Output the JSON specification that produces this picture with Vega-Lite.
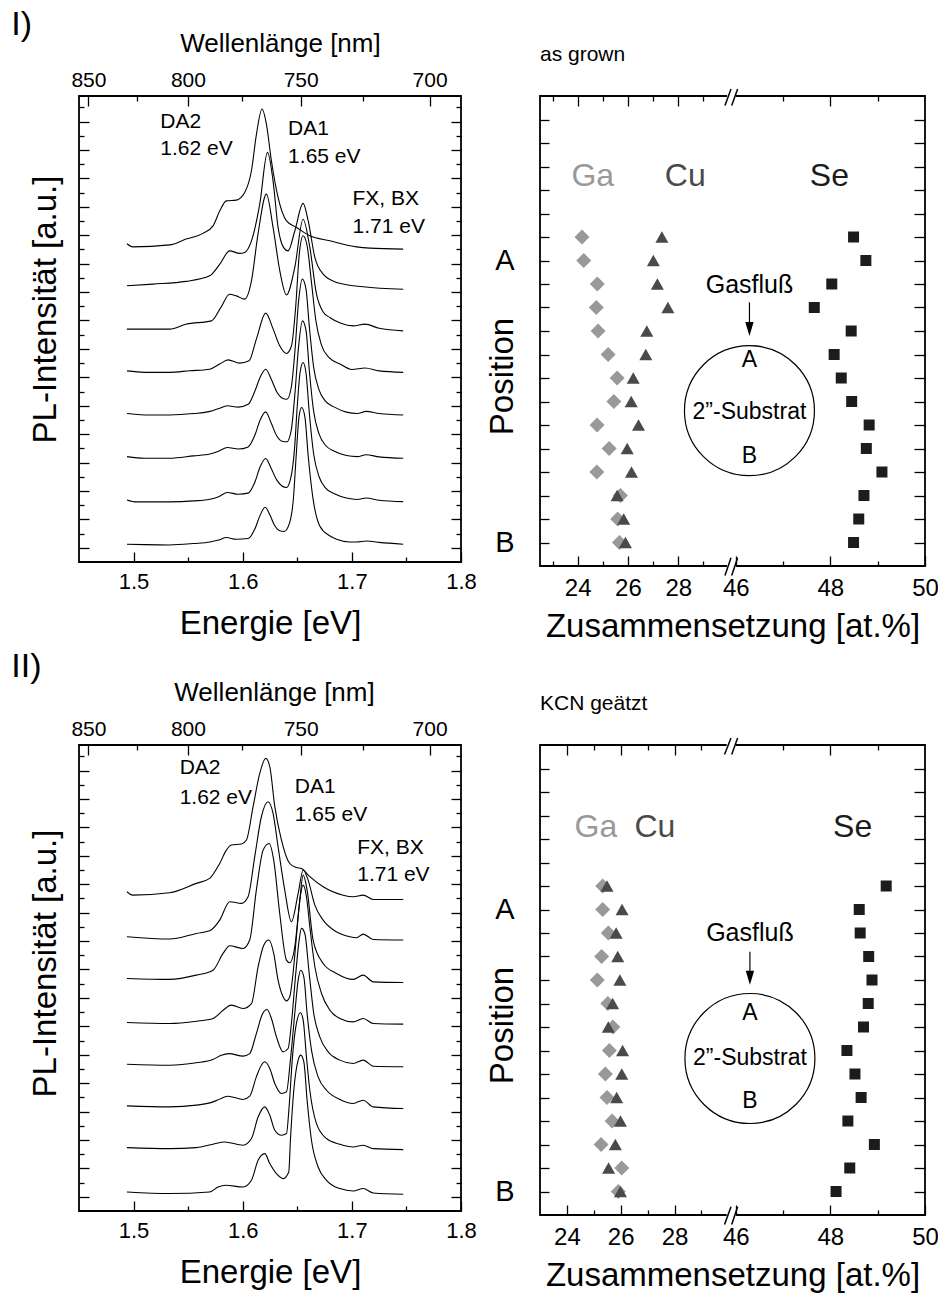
{
"$schema": "https://vega.github.io/schema/vega-lite/v6.json",
"background": "white",
"padding": {"left": 10, "top": 7, "right": 0, "bottom": 0},
"config": {
 "font": "Liberation Sans",
 "view": {"stroke": "#000000", "strokeWidth": 1.8},
 "axis": {"domain": false, "grid": false, "tickColor": "#000000", "tickWidth": 1.3, "labelColor": "#000000", "titleColor": "#000000", "titleFontWeight": "normal", "titleFontSize": 33, "labelFontSize": 22, "labelFont": "Liberation Sans", "titleFont": "Liberation Sans", "labelFlush": false, "labelOverlap": false},
 "title": {"font": "Liberation Sans", "fontWeight": "normal", "color": "#000000"},
 "text": {"font": "Liberation Sans", "color": "#000000"}
},
"datasets": {
 "specI": [
  {"c":1,"e":1.494,"i":1.25},{"c":1,"e":1.51,"i":1.22},{"c":1,"e":1.533,"i":1.2},{"c":1,"e":1.555,"i":1.3},{"c":1,"e":1.57,"i":1.41},{"c":1,"e":1.578,"i":1.55},{"c":1,"e":1.585,"i":1.72},{"c":1,"e":1.594,"i":1.6},{"c":1,"e":1.605,"i":1.65},{"c":1,"e":1.611,"i":2.3},{"c":1,"e":1.616,"i":3.3},{"c":1,"e":1.6205,"i":3.85},{"c":1,"e":1.625,"i":3.3},{"c":1,"e":1.629,"i":2.6},{"c":1,"e":1.634,"i":2.2},{"c":1,"e":1.638,"i":2.15},{"c":1,"e":1.643,"i":2.77},{"c":1,"e":1.6465,"i":4.5},{"c":1,"e":1.649,"i":7.5},{"c":1,"e":1.6517,"i":10.28},{"c":1,"e":1.654,"i":10.87},{"c":1,"e":1.657,"i":10.2},{"c":1,"e":1.66,"i":7.46},{"c":1,"e":1.6645,"i":4.42},{"c":1,"e":1.6706,"i":2.54},{"c":1,"e":1.68,"i":1.83},{"c":1,"e":1.686,"i":1.6},{"c":1,"e":1.698,"i":1.41},{"c":1,"e":1.7043,"i":1.41},{"c":1,"e":1.7135,"i":1.48},{"c":1,"e":1.725,"i":1.38},{"c":1,"e":1.747,"i":1.25},
  {"c":2,"e":1.494,"i":4.37},{"c":2,"e":1.5025,"i":4.23},{"c":2,"e":1.533,"i":4.23},{"c":2,"e":1.555,"i":4.3},{"c":2,"e":1.57,"i":4.42},{"c":2,"e":1.578,"i":4.6},{"c":2,"e":1.586,"i":4.89},{"c":2,"e":1.596,"i":4.77},{"c":2,"e":1.605,"i":4.85},{"c":2,"e":1.611,"i":5.6},{"c":2,"e":1.616,"i":6.7},{"c":2,"e":1.621,"i":7.28},{"c":2,"e":1.626,"i":6.6},{"c":2,"e":1.631,"i":5.8},{"c":2,"e":1.636,"i":5.35},{"c":2,"e":1.64,"i":5.24},{"c":2,"e":1.644,"i":5.9},{"c":2,"e":1.6475,"i":8.0},{"c":2,"e":1.65,"i":11.0},{"c":2,"e":1.6525,"i":13.3},{"c":2,"e":1.6553,"i":14.04},{"c":2,"e":1.658,"i":13.3},{"c":2,"e":1.661,"i":10.5},{"c":2,"e":1.665,"i":7.6},{"c":2,"e":1.67,"i":6.0},{"c":2,"e":1.676,"i":5.2},{"c":2,"e":1.684,"i":4.8},{"c":2,"e":1.695,"i":4.5},{"c":2,"e":1.705,"i":4.4},{"c":2,"e":1.713,"i":4.5},{"c":2,"e":1.725,"i":4.35},{"c":2,"e":1.747,"i":4.25},
  {"c":3,"e":1.494,"i":7.42},{"c":3,"e":1.51,"i":7.3},{"c":3,"e":1.533,"i":7.3},{"c":3,"e":1.555,"i":7.47},{"c":3,"e":1.57,"i":7.6},{"c":3,"e":1.578,"i":7.8},{"c":3,"e":1.586,"i":8.06},{"c":3,"e":1.596,"i":7.95},{"c":3,"e":1.605,"i":8.1},{"c":3,"e":1.611,"i":8.9},{"c":3,"e":1.616,"i":10.0},{"c":3,"e":1.621,"i":10.57},{"c":3,"e":1.626,"i":9.8},{"c":3,"e":1.631,"i":8.9},{"c":3,"e":1.636,"i":8.5},{"c":3,"e":1.6405,"i":8.46},{"c":3,"e":1.6445,"i":9.3},{"c":3,"e":1.648,"i":12.0},{"c":3,"e":1.651,"i":15.0},{"c":3,"e":1.6547,"i":16.97},{"c":3,"e":1.658,"i":16.3},{"c":3,"e":1.661,"i":13.5},{"c":3,"e":1.665,"i":10.6},{"c":3,"e":1.67,"i":9.0},{"c":3,"e":1.676,"i":8.2},{"c":3,"e":1.684,"i":7.8},{"c":3,"e":1.695,"i":7.5},{"c":3,"e":1.705,"i":7.42},{"c":3,"e":1.713,"i":7.55},{"c":3,"e":1.725,"i":7.4},{"c":3,"e":1.747,"i":7.3},
  {"c":4,"e":1.494,"i":10.45},{"c":4,"e":1.51,"i":10.35},{"c":4,"e":1.533,"i":10.35},{"c":4,"e":1.555,"i":10.45},{"c":4,"e":1.57,"i":10.6},{"c":4,"e":1.578,"i":10.8},{"c":4,"e":1.586,"i":11.0},{"c":4,"e":1.596,"i":10.9},{"c":4,"e":1.605,"i":11.1},{"c":4,"e":1.611,"i":12.0},{"c":4,"e":1.616,"i":13.0},{"c":4,"e":1.621,"i":13.57},{"c":4,"e":1.626,"i":12.9},{"c":4,"e":1.631,"i":12.0},{"c":4,"e":1.636,"i":11.55},{"c":4,"e":1.6405,"i":11.46},{"c":4,"e":1.6445,"i":12.3},{"c":4,"e":1.648,"i":15.0},{"c":4,"e":1.651,"i":18.2},{"c":4,"e":1.6547,"i":19.91},{"c":4,"e":1.658,"i":19.2},{"c":4,"e":1.661,"i":16.6},{"c":4,"e":1.665,"i":13.7},{"c":4,"e":1.67,"i":12.1},{"c":4,"e":1.676,"i":11.3},{"c":4,"e":1.684,"i":10.9},{"c":4,"e":1.695,"i":10.55},{"c":4,"e":1.705,"i":10.45},{"c":4,"e":1.713,"i":10.6},{"c":4,"e":1.725,"i":10.45},{"c":4,"e":1.747,"i":10.35},
  {"c":5,"e":1.494,"i":13.45},{"c":5,"e":1.51,"i":13.35},{"c":5,"e":1.533,"i":13.35},{"c":5,"e":1.5514,"i":13.46},{"c":5,"e":1.5697,"i":13.57},{"c":5,"e":1.5789,"i":13.93},{"c":5,"e":1.5866,"i":14.23},{"c":5,"e":1.5972,"i":14.0},{"c":5,"e":1.6058,"i":14.16},{"c":5,"e":1.6125,"i":15.69},{"c":5,"e":1.6211,"i":17.52},{"c":5,"e":1.6279,"i":16.39},{"c":5,"e":1.6339,"i":15.22},{"c":5,"e":1.6401,"i":14.68},{"c":5,"e":1.6447,"i":15.22},{"c":5,"e":1.6486,"i":18.03},{"c":5,"e":1.6517,"i":21.56},{"c":5,"e":1.6553,"i":22.96},{"c":5,"e":1.659,"i":22.26},{"c":5,"e":1.663,"i":19.68},{"c":5,"e":1.667,"i":17.0},{"c":5,"e":1.672,"i":15.3},{"c":5,"e":1.679,"i":14.4},{"c":5,"e":1.69,"i":13.9},{"c":5,"e":1.7,"i":13.55},{"c":5,"e":1.712,"i":13.65},{"c":5,"e":1.725,"i":13.45},{"c":5,"e":1.747,"i":13.35},
  {"c":6,"e":1.4939,"i":16.39},{"c":6,"e":1.533,"i":16.39},{"c":6,"e":1.548,"i":16.74},{"c":6,"e":1.5713,"i":16.97},{"c":6,"e":1.58,"i":17.92},{"c":6,"e":1.588,"i":18.85},{"c":6,"e":1.5942,"i":18.73},{"c":6,"e":1.6018,"i":18.5},{"c":6,"e":1.608,"i":19.79},{"c":6,"e":1.614,"i":23.08},{"c":6,"e":1.6217,"i":25.89},{"c":6,"e":1.6278,"i":23.55},{"c":6,"e":1.634,"i":20.49},{"c":6,"e":1.6401,"i":18.8},{"c":6,"e":1.6477,"i":20.73},{"c":6,"e":1.6553,"i":24.13},{"c":6,"e":1.6615,"i":22.14},{"c":6,"e":1.6676,"i":18.85},{"c":6,"e":1.6737,"i":17.6},{"c":6,"e":1.6798,"i":17.21},{"c":6,"e":1.69,"i":16.8},{"c":6,"e":1.7012,"i":16.62},{"c":6,"e":1.712,"i":16.74},{"c":6,"e":1.725,"i":16.45},{"c":6,"e":1.747,"i":16.27},
  {"c":7,"e":1.4939,"i":19.44},{"c":7,"e":1.5177,"i":19.56},{"c":7,"e":1.548,"i":19.75},{"c":7,"e":1.5697,"i":20.14},{"c":7,"e":1.579,"i":20.96},{"c":7,"e":1.588,"i":21.9},{"c":7,"e":1.5972,"i":21.72},{"c":7,"e":1.6018,"i":21.79},{"c":7,"e":1.608,"i":22.6},{"c":7,"e":1.6156,"i":25.19},{"c":7,"e":1.6227,"i":28.83},{"c":7,"e":1.6278,"i":26.83},{"c":7,"e":1.6324,"i":23.55},{"c":7,"e":1.637,"i":22.2},{"c":7,"e":1.6416,"i":21.9},{"c":7,"e":1.6477,"i":23.3},{"c":7,"e":1.6553,"i":25.24},{"c":7,"e":1.66,"i":24.01},{"c":7,"e":1.6661,"i":21.44},{"c":7,"e":1.6737,"i":20.26},{"c":7,"e":1.686,"i":19.68},{"c":7,"e":1.7104,"i":19.37},{"c":7,"e":1.747,"i":19.2},
  {"c":8,"e":1.4939,"i":22.4},{"c":8,"e":1.4994,"i":22.18},{"c":8,"e":1.533,"i":22.32},{"c":8,"e":1.548,"i":22.73},{"c":8,"e":1.5636,"i":23.13},{"c":8,"e":1.5728,"i":23.66},{"c":8,"e":1.579,"i":24.72},{"c":8,"e":1.585,"i":25.42},{"c":8,"e":1.594,"i":25.47},{"c":8,"e":1.6018,"i":26.01},{"c":8,"e":1.608,"i":27.54},{"c":8,"e":1.6126,"i":30.12},{"c":8,"e":1.6177,"i":31.88},{"c":8,"e":1.6217,"i":30.82},{"c":8,"e":1.6263,"i":28.24},{"c":8,"e":1.6324,"i":25.66},{"c":8,"e":1.6401,"i":24.01},{"c":8,"e":1.6493,"i":23.55},{"c":8,"e":1.6615,"i":22.96},{"c":8,"e":1.6798,"i":22.61},{"c":8,"e":1.7043,"i":22.18},{"c":8,"e":1.7165,"i":22.09},{"c":8,"e":1.747,"i":22.02}
 ],
 "specII": [
  {"c":1,"e":1.4939,"i":1.34},{"c":1,"e":1.533,"i":1.23},{"c":1,"e":1.5697,"i":1.34},{"c":1,"e":1.5774,"i":1.69},{"c":1,"e":1.5844,"i":1.81},{"c":1,"e":1.6003,"i":1.69},{"c":1,"e":1.608,"i":2.16},{"c":1,"e":1.6141,"i":3.57},{"c":1,"e":1.6202,"i":4.04},{"c":1,"e":1.6248,"i":3.34},{"c":1,"e":1.6309,"i":2.63},{"c":1,"e":1.637,"i":2.28},{"c":1,"e":1.6422,"i":2.75},{"c":1,"e":1.6437,"i":4.98},{"c":1,"e":1.6468,"i":8.5},{"c":1,"e":1.6508,"i":10.62},{"c":1,"e":1.6532,"i":10.97},{"c":1,"e":1.656,"i":10.5},{"c":1,"e":1.659,"i":7.8},{"c":1,"e":1.663,"i":4.98},{"c":1,"e":1.6691,"i":3.1},{"c":1,"e":1.6768,"i":2.16},{"c":1,"e":1.689,"i":1.58},{"c":1,"e":1.7012,"i":1.41},{"c":1,"e":1.7104,"i":1.58},{"c":1,"e":1.7196,"i":1.27},{"c":1,"e":1.7471,"i":1.18},
  {"c":2,"e":1.4939,"i":4.46},{"c":2,"e":1.533,"i":4.39},{"c":2,"e":1.5575,"i":4.46},{"c":2,"e":1.5728,"i":4.7},{"c":2,"e":1.5835,"i":4.86},{"c":2,"e":1.6003,"i":4.63},{"c":2,"e":1.608,"i":5.1},{"c":2,"e":1.6141,"i":6.62},{"c":2,"e":1.6202,"i":7.33},{"c":2,"e":1.6248,"i":6.74},{"c":2,"e":1.6294,"i":5.68},{"c":2,"e":1.6355,"i":5.33},{"c":2,"e":1.6401,"i":5.45},{"c":2,"e":1.6425,"i":7.33},{"c":2,"e":1.6456,"i":10.85},{"c":2,"e":1.6492,"i":13.2},{"c":2,"e":1.6529,"i":13.95},{"c":2,"e":1.6554,"i":13.43},{"c":2,"e":1.6584,"i":10.85},{"c":2,"e":1.6615,"i":8.5},{"c":2,"e":1.6676,"i":6.15},{"c":2,"e":1.6768,"i":5.1},{"c":2,"e":1.689,"i":4.7},{"c":2,"e":1.7012,"i":4.51},{"c":2,"e":1.7104,"i":4.63},{"c":2,"e":1.7196,"i":4.39},{"c":2,"e":1.7471,"i":4.32},
  {"c":3,"e":1.4939,"i":7.4},{"c":3,"e":1.533,"i":7.33},{"c":3,"e":1.5575,"i":7.45},{"c":3,"e":1.5728,"i":7.68},{"c":3,"e":1.5804,"i":7.92},{"c":3,"e":1.5865,"i":8.08},{"c":3,"e":1.6003,"i":7.85},{"c":3,"e":1.6064,"i":8.08},{"c":3,"e":1.6125,"i":9.44},{"c":3,"e":1.6171,"i":10.26},{"c":3,"e":1.6202,"i":10.5},{"c":3,"e":1.6248,"i":10.03},{"c":3,"e":1.6294,"i":8.97},{"c":3,"e":1.6355,"i":8.27},{"c":3,"e":1.6401,"i":8.39},{"c":3,"e":1.6437,"i":10.62},{"c":3,"e":1.6477,"i":13.9},{"c":3,"e":1.6508,"i":16.25},{"c":3,"e":1.6532,"i":16.95},{"c":3,"e":1.656,"i":16.48},{"c":3,"e":1.659,"i":13.9},{"c":3,"e":1.663,"i":11.32},{"c":3,"e":1.6691,"i":9.44},{"c":3,"e":1.6768,"i":8.5},{"c":3,"e":1.689,"i":7.85},{"c":3,"e":1.7012,"i":7.57},{"c":3,"e":1.7104,"i":7.8},{"c":3,"e":1.7196,"i":7.33},{"c":3,"e":1.7471,"i":7.21},
  {"c":4,"e":1.4939,"i":10.33},{"c":4,"e":1.533,"i":10.26},{"c":4,"e":1.5575,"i":10.43},{"c":4,"e":1.5728,"i":10.66},{"c":4,"e":1.5804,"i":10.97},{"c":4,"e":1.5875,"i":11.08},{"c":4,"e":1.6003,"i":10.9},{"c":4,"e":1.6064,"i":11.08},{"c":4,"e":1.6125,"i":12.49},{"c":4,"e":1.618,"i":13.85},{"c":4,"e":1.6223,"i":14.18},{"c":4,"e":1.6263,"i":13.55},{"c":4,"e":1.6309,"i":12.26},{"c":4,"e":1.637,"i":11.2},{"c":4,"e":1.6416,"i":11.44},{"c":4,"e":1.6446,"i":13.2},{"c":4,"e":1.6486,"i":16.72},{"c":4,"e":1.6517,"i":19.07},{"c":4,"e":1.6538,"i":19.89},{"c":4,"e":1.6569,"i":19.53},{"c":4,"e":1.6609,"i":16.72},{"c":4,"e":1.6651,"i":13.9},{"c":4,"e":1.6706,"i":12.26},{"c":4,"e":1.6783,"i":11.2},{"c":4,"e":1.689,"i":10.62},{"c":4,"e":1.7012,"i":10.38},{"c":4,"e":1.7104,"i":10.62},{"c":4,"e":1.7196,"i":10.19},{"c":4,"e":1.7471,"i":10.15},
  {"c":5,"e":1.4939,"i":13.27},{"c":5,"e":1.533,"i":13.2},{"c":5,"e":1.5575,"i":13.36},{"c":5,"e":1.5728,"i":13.55},{"c":5,"e":1.582,"i":14.13},{"c":5,"e":1.5896,"i":14.49},{"c":5,"e":1.6003,"i":14.25},{"c":5,"e":1.608,"i":14.6},{"c":5,"e":1.6141,"i":17.19},{"c":5,"e":1.6193,"i":18.71},{"c":5,"e":1.6239,"i":19.07},{"c":5,"e":1.6284,"i":18.13},{"c":5,"e":1.6324,"i":16.25},{"c":5,"e":1.637,"i":15.08},{"c":5,"e":1.6401,"i":14.79},{"c":5,"e":1.6431,"i":15.08},{"c":5,"e":1.6461,"i":16.72},{"c":5,"e":1.6492,"i":19.3},{"c":5,"e":1.6523,"i":21.88},{"c":5,"e":1.6554,"i":22.94},{"c":5,"e":1.6584,"i":22.12},{"c":5,"e":1.6615,"i":20.0},{"c":5,"e":1.6661,"i":17.19},{"c":5,"e":1.6722,"i":15.31},{"c":5,"e":1.6798,"i":14.14},{"c":5,"e":1.689,"i":13.55},{"c":5,"e":1.7012,"i":13.31},{"c":5,"e":1.7104,"i":13.55},{"c":5,"e":1.7196,"i":13.2},{"c":5,"e":1.7471,"i":13.15},
  {"c":6,"e":1.4939,"i":16.37},{"c":6,"e":1.533,"i":16.3},{"c":6,"e":1.5575,"i":16.6},{"c":6,"e":1.5728,"i":16.95},{"c":6,"e":1.582,"i":18.13},{"c":6,"e":1.5881,"i":18.67},{"c":6,"e":1.6003,"i":18.48},{"c":6,"e":1.6064,"i":19.07},{"c":6,"e":1.6125,"i":22.59},{"c":6,"e":1.6187,"i":25.4},{"c":6,"e":1.6242,"i":25.87},{"c":6,"e":1.6284,"i":24.7},{"c":6,"e":1.6339,"i":20.94},{"c":6,"e":1.6401,"i":17.66},{"c":6,"e":1.6431,"i":17.47},{"c":6,"e":1.6477,"i":18.6},{"c":6,"e":1.6517,"i":21.41},{"c":6,"e":1.6554,"i":23.64},{"c":6,"e":1.659,"i":22.59},{"c":6,"e":1.6645,"i":19.07},{"c":6,"e":1.6737,"i":17.42},{"c":6,"e":1.6859,"i":16.72},{"c":6,"e":1.7012,"i":16.3},{"c":6,"e":1.7104,"i":16.6},{"c":6,"e":1.7196,"i":16.13},{"c":6,"e":1.7471,"i":16.08},
  {"c":7,"e":1.4939,"i":19.3},{"c":7,"e":1.533,"i":19.14},{"c":7,"e":1.5575,"i":19.53},{"c":7,"e":1.5697,"i":19.72},{"c":7,"e":1.5789,"i":20.47},{"c":7,"e":1.5881,"i":21.77},{"c":7,"e":1.5988,"i":21.65},{"c":7,"e":1.6049,"i":22.12},{"c":7,"e":1.611,"i":24.93},{"c":7,"e":1.6171,"i":27.75},{"c":7,"e":1.6232,"i":28.81},{"c":7,"e":1.6278,"i":27.99},{"c":7,"e":1.6324,"i":25.64},{"c":7,"e":1.6385,"i":22.59},{"c":7,"e":1.6446,"i":20.36},{"c":7,"e":1.6508,"i":22.35},{"c":7,"e":1.6554,"i":24.0},{"c":7,"e":1.6599,"i":23.29},{"c":7,"e":1.6661,"i":21.53},{"c":7,"e":1.6737,"i":20.47},{"c":7,"e":1.6859,"i":19.65},{"c":7,"e":1.6982,"i":19.3},{"c":7,"e":1.7043,"i":19.23},{"c":7,"e":1.7104,"i":19.49},{"c":7,"e":1.7196,"i":19.11},{"c":7,"e":1.7471,"i":19.07},
  {"c":8,"e":1.4939,"i":22.47},{"c":8,"e":1.4994,"i":22.23},{"c":8,"e":1.533,"i":22.4},{"c":8,"e":1.5575,"i":23.06},{"c":8,"e":1.5697,"i":23.41},{"c":8,"e":1.5789,"i":24.46},{"c":8,"e":1.585,"i":25.4},{"c":8,"e":1.5896,"i":25.76},{"c":8,"e":1.5988,"i":25.83},{"c":8,"e":1.6034,"i":26.11},{"c":8,"e":1.6095,"i":28.46},{"c":8,"e":1.6156,"i":30.8},{"c":8,"e":1.6211,"i":31.86},{"c":8,"e":1.6248,"i":31.27},{"c":8,"e":1.6294,"i":28.46},{"c":8,"e":1.6355,"i":26.11},{"c":8,"e":1.6431,"i":24.46},{"c":8,"e":1.6492,"i":24.18},{"c":8,"e":1.6538,"i":24.11},{"c":8,"e":1.6615,"i":23.53},{"c":8,"e":1.6737,"i":22.82},{"c":8,"e":1.692,"i":22.23},{"c":8,"e":1.7012,"i":22.12},{"c":8,"e":1.7104,"i":22.23},{"c":8,"e":1.7196,"i":21.93},{"c":8,"e":1.7471,"i":21.93}
 ],
 "annI": [
  {"t":"DA2","e":1.5245,"i":31.0},{"t":"1.62 eV","e":1.5245,"i":29.06},{"t":"DA1","e":1.6416,"i":30.47},{"t":"1.65 eV","e":1.6416,"i":28.48},{"t":"FX, BX","e":1.7006,"i":25.54},{"t":"1.71 eV","e":1.7006,"i":23.55}
 ],
 "annII": [
  {"t":"DA2","e":1.5422,"i":31.15},{"t":"1.62 eV","e":1.5422,"i":29.04},{"t":"DA1","e":1.6477,"i":29.86},{"t":"1.65 eV","e":1.6477,"i":27.87},{"t":"FX, BX","e":1.7049,"i":25.52},{"t":"1.71 eV","e":1.7049,"i":23.64}
 ],
 "compI": [
  {"el":"Ga","k":14,"v":24.17},{"el":"Ga","k":13,"v":24.24},{"el":"Ga","k":12,"v":24.78},{"el":"Ga","k":11,"v":24.74},{"el":"Ga","k":10,"v":24.81},{"el":"Ga","k":9,"v":25.21},{"el":"Ga","k":8,"v":25.57},{"el":"Ga","k":7,"v":25.44},{"el":"Ga","k":6,"v":24.77},{"el":"Ga","k":5,"v":25.25},{"el":"Ga","k":4,"v":24.76},{"el":"Ga","k":3,"v":25.7},{"el":"Ga","k":2,"v":25.59},{"el":"Ga","k":1,"v":25.66},
  {"el":"Cu","k":14,"v":27.35},{"el":"Cu","k":13,"v":27.01},{"el":"Cu","k":12,"v":27.17},{"el":"Cu","k":11,"v":27.59},{"el":"Cu","k":10,"v":26.75},{"el":"Cu","k":9,"v":26.71},{"el":"Cu","k":8,"v":26.21},{"el":"Cu","k":7,"v":26.13},{"el":"Cu","k":6,"v":26.42},{"el":"Cu","k":5,"v":25.97},{"el":"Cu","k":4,"v":26.14},{"el":"Cu","k":3,"v":25.57},{"el":"Cu","k":2,"v":25.83},{"el":"Cu","k":1,"v":25.9},
  {"el":"Se","k":14,"v":48.49},{"el":"Se","k":13,"v":48.75},{"el":"Se","k":12,"v":48.03},{"el":"Se","k":11,"v":47.66},{"el":"Se","k":10,"v":48.44},{"el":"Se","k":9,"v":48.08},{"el":"Se","k":8,"v":48.23},{"el":"Se","k":7,"v":48.45},{"el":"Se","k":6,"v":48.82},{"el":"Se","k":5,"v":48.76},{"el":"Se","k":4,"v":49.09},{"el":"Se","k":3,"v":48.71},{"el":"Se","k":2,"v":48.6},{"el":"Se","k":1,"v":48.49}
 ],
 "compII": [
  {"el":"Ga","k":14,"v":25.33},{"el":"Ga","k":13,"v":25.33},{"el":"Ga","k":12,"v":25.54},{"el":"Ga","k":11,"v":25.29},{"el":"Ga","k":10,"v":25.13},{"el":"Ga","k":9,"v":25.52},{"el":"Ga","k":8,"v":25.71},{"el":"Ga","k":7,"v":25.58},{"el":"Ga","k":6,"v":25.43},{"el":"Ga","k":5,"v":25.49},{"el":"Ga","k":4,"v":25.68},{"el":"Ga","k":3,"v":25.27},{"el":"Ga","k":2,"v":26.04},{"el":"Ga","k":1,"v":25.91},
  {"el":"Cu","k":14,"v":25.49},{"el":"Cu","k":13,"v":26.05},{"el":"Cu","k":12,"v":25.83},{"el":"Cu","k":11,"v":25.89},{"el":"Cu","k":10,"v":25.97},{"el":"Cu","k":9,"v":25.7},{"el":"Cu","k":8,"v":25.54},{"el":"Cu","k":7,"v":26.07},{"el":"Cu","k":6,"v":26.04},{"el":"Cu","k":5,"v":25.85},{"el":"Cu","k":4,"v":25.99},{"el":"Cu","k":3,"v":25.8},{"el":"Cu","k":2,"v":25.55},{"el":"Cu","k":1,"v":25.99},
  {"el":"Se","k":14,"v":49.18},{"el":"Se","k":13,"v":48.61},{"el":"Se","k":12,"v":48.63},{"el":"Se","k":11,"v":48.81},{"el":"Se","k":10,"v":48.88},{"el":"Se","k":9,"v":48.8},{"el":"Se","k":8,"v":48.7},{"el":"Se","k":7,"v":48.35},{"el":"Se","k":6,"v":48.52},{"el":"Se","k":5,"v":48.65},{"el":"Se","k":4,"v":48.37},{"el":"Se","k":3,"v":48.93},{"el":"Se","k":2,"v":48.41},{"el":"Se","k":1,"v":48.12}
 ],
 "labI": [{"el":"Ga","v":24.6,"k":16.6},{"el":"Cu","v":28.28,"k":16.6},{"el":"Se","v":47.98,"k":16.6}],
 "labII": [{"el":"Ga","v":25.08,"k":16.5},{"el":"Cu","v":27.27,"k":16.5},{"el":"Se","v":48.47,"k":16.5}],
 "insetI": [{"t":"Gasfluß","v":46.29,"k":11.96},{"t":"A","v":46.29,"k":8.75},{"t":"2”-Substrat","v":46.29,"k":6.55},{"t":"B","v":46.29,"k":4.69}],
 "insetII": [{"t":"Gasfluß","v":46.3,"k":12.0},{"t":"A","v":46.3,"k":8.6},{"t":"2”-Substrat","v":46.3,"k":6.68},{"t":"B","v":46.3,"k":4.83}],
 "circI": [{"v":46.29,"k":6.61}],
 "circII": [{"v":46.3,"k":6.66}],
 "arrowI": [{"v":46.29,"k1":11.22,"k2":10.3}],
 "arrowII": [{"v":46.3,"k1":11.2,"k2":10.3}],
 "headI": [{"v":46.29,"k":10.09}],
 "headII": [{"v":46.3,"k":10.1}],
 "gap": [{"x1":29.94,"x2":46.0,"y1":20,"y2":20},{"x1":29.94,"x2":46.0,"y1":0,"y2":0}],
 "slash": [{"x1":29.86,"x2":30.1,"y1":19.6,"y2":20.3},{"x1":45.915,"x2":46.04,"y1":19.6,"y2":20.3},{"x1":29.86,"x2":30.1,"y1":-0.4,"y2":0.35},{"x1":45.915,"x2":46.04,"y1":-0.4,"y2":0.35}]
},
"spacing": 5,
"vconcat": [
 {"spacing": 7, "hconcat": [
  {"width": 382, "height": 466,
   "title": {"text": "I)", "anchor": "start", "frame": "bounds", "fontSize": 34, "dx": -18, "dy": 16},
   "layer": [
    {"data": {"name": "specI"}, "mark": {"type": "line", "color": "#000000", "strokeWidth": 1.1, "interpolate": "monotone"},
     "encoding": {
      "x": {"field": "e", "type": "quantitative", "scale": {"domain": [1.45, 1.8], "zero": false, "nice": false}, "axis": {"orient": "bottom", "values": [1.5, 1.6, 1.7, 1.8], "format": ".1f", "tickSize": -10, "labelPadding": 19, "labelFontSize": 22, "title": "Energie [eV]", "titlePadding": 15}},
      "y": {"field": "i", "type": "quantitative", "scale": {"domain": [0, 32.8], "zero": false, "nice": false}, "axis": {"orient": "left", "values": [1,3,5,7,9,11,13,15,17,19,21,23,25,27,29,31], "labels": false, "tickSize": -10, "title": "PL-Intensität [a.u.]", "titlePadding": 16, "titleY": 213}},
      "detail": {"field": "c", "type": "nominal"}}},
    {"data": {"values": [{"e": 1.6, "i": 10}]}, "mark": {"type": "point", "opacity": 0},
     "encoding": {
      "x": {"field": "e", "type": "quantitative", "scale": {"domain": [1.45, 1.8], "zero": false, "nice": false}, "axis": {"orient": "bottom", "values": [1.55, 1.65, 1.75], "labels": false, "tickSize": -5, "title": null}},
      "y": {"field": "i", "type": "quantitative", "scale": {"domain": [0, 32.8], "zero": false, "nice": false}, "axis": {"orient": "left", "values": [2,4,6,8,10,12,14,16,18,20,22,24,26,28,30,32], "labels": false, "tickSize": -5, "title": null}}}},
    {"data": {"values": [{"e": 1.6, "i": 10}]}, "mark": {"type": "point", "opacity": 0},
     "encoding": {
      "x": {"field": "e", "type": "quantitative", "scale": {"domain": [1.45, 1.8], "zero": false, "nice": false}, "axis": {"orient": "top", "values": [1.458635, 1.5498, 1.65312, 1.7712], "labelExpr": "format(1239.84/datum.value, '.0f')", "tickSize": -10, "labelPadding": 16, "labelFontSize": 21, "title": "Wellenlänge [nm]", "titleFontSize": 26, "titlePadding": 13, "titleX": 201}},
      "y": {"field": "i", "type": "quantitative", "scale": {"domain": [0, 32.8], "zero": false, "nice": false}, "axis": {"orient": "right", "values": [1,3,5,7,9,11,13,15,17,19,21,23,25,27,29,31], "labels": false, "tickSize": -10, "title": null}}}},
    {"data": {"values": [{"e": 1.6, "i": 10}]}, "mark": {"type": "point", "opacity": 0},
     "encoding": {
      "x": {"field": "e", "type": "quantitative", "scale": {"domain": [1.45, 1.8], "zero": false, "nice": false}, "axis": {"orient": "top", "values": [1.502836, 1.599794, 1.710124], "labels": false, "tickSize": -5, "title": null}},
      "y": {"field": "i", "type": "quantitative", "scale": {"domain": [0, 32.8], "zero": false, "nice": false}, "axis": {"orient": "right", "values": [2,4,6,8,10,12,14,16,18,20,22,24,26,28,30,32], "labels": false, "tickSize": -5, "title": null}}}},
    {"data": {"name": "annI"}, "mark": {"type": "text", "align": "left", "baseline": "middle", "fontSize": 21},
     "encoding": {
      "x": {"field": "e", "type": "quantitative", "scale": {"domain": [1.45, 1.8], "zero": false, "nice": false}, "axis": null},
      "y": {"field": "i", "type": "quantitative", "scale": {"domain": [0, 32.8], "zero": false, "nice": false}, "axis": null},
      "text": {"field": "t"}}}
   ],
   "resolve": {"axis": {"x": "independent", "y": "independent"}}
  },
  {"width": 385, "height": 470,
   "title": {"text": "as grown", "anchor": "start", "frame": "group", "fontSize": 21, "offset": 23},
   "layer": [
    {"data": {"name": "compI"}, "mark": {"type": "point", "filled": true, "opacity": 1},
     "encoding": {
      "x": {"field": "v", "type": "quantitative", "scale": {"domain": [22.5, 30.1, 45.9, 50], "range": [0, 191, 191, 385], "zero": false, "nice": false}, "axis": {"orient": "bottom", "values": [24, 26, 28, 46, 48, 50], "tickSize": -10, "labelPadding": 20, "labelFontSize": 24, "title": "Zusammensetzung [at.%]", "titlePadding": 10}},
      "y": {"field": "k", "type": "quantitative", "scale": {"domain": [0, 20], "zero": false, "nice": false}, "axis": {"orient": "left", "values": [1,2,3,4,5,6,7,8,9,10,11,12,13,14,15,16,17,18,19], "labelExpr": "datum.value == 13 ? 'A' : (datum.value == 1 ? 'B' : '')", "labelFontSize": 29, "tickSize": -9, "labelPadding": 35, "title": "Position", "titleX": -38, "titleY": 280, "titleAngle": -90, "titleBaseline": "middle", "titleAlign": "center"}},
      "shape": {"field": "el", "type": "nominal", "scale": {"domain": ["Ga", "Cu", "Se"], "range": ["diamond", "triangle-up", "square"]}, "legend": null},
      "color": {"field": "el", "type": "nominal", "scale": {"domain": ["Ga", "Cu", "Se"], "range": ["#999999", "#4a4a4a", "#1c1c1c"]}, "legend": null},
      "size": {"field": "el", "type": "nominal", "scale": {"type": "ordinal", "domain": ["Ga", "Cu", "Se"], "range": [225, 170, 121]}, "legend": null}}},
    {"data": {"values": [{"v": 25, "k": 10}]}, "mark": {"type": "point", "opacity": 0},
     "encoding": {
      "x": {"field": "v", "type": "quantitative", "scale": {"domain": [22.5, 30.1, 45.9, 50], "range": [0, 191, 191, 385], "zero": false, "nice": false}, "axis": {"orient": "bottom", "values": [23, 25, 27, 29, 47, 49], "labels": false, "tickSize": -5, "title": null}},
      "y": {"field": "k", "type": "quantitative", "scale": {"domain": [0, 20], "zero": false, "nice": false}, "axis": {"orient": "right", "values": [1,2,3,4,5,6,7,8,9,10,11,12,13,14,15,16,17,18,19], "labels": false, "tickSize": -11, "title": null}}}},
    {"data": {"values": [{"v": 25, "k": 10}]}, "mark": {"type": "point", "opacity": 0},
     "encoding": {
      "x": {"field": "v", "type": "quantitative", "scale": {"domain": [22.5, 30.1, 45.9, 50], "range": [0, 191, 191, 385], "zero": false, "nice": false}, "axis": {"orient": "top", "values": [24, 26, 28, 48], "labels": false, "tickSize": -10, "title": null}},
      "y": {"field": "k", "type": "quantitative", "scale": {"domain": [0, 20], "zero": false, "nice": false}, "axis": null}}},
    {"data": {"values": [{"v": 25, "k": 10}]}, "mark": {"type": "point", "opacity": 0},
     "encoding": {
      "x": {"field": "v", "type": "quantitative", "scale": {"domain": [22.5, 30.1, 45.9, 50], "range": [0, 191, 191, 385], "zero": false, "nice": false}, "axis": {"orient": "top", "values": [23, 25, 27, 29, 47, 49], "labels": false, "tickSize": -5, "title": null}},
      "y": {"field": "k", "type": "quantitative", "scale": {"domain": [0, 20], "zero": false, "nice": false}, "axis": null}}},
    {"data": {"name": "labI"}, "mark": {"type": "text", "align": "center", "baseline": "middle", "fontSize": 32},
     "encoding": {
      "x": {"field": "v", "type": "quantitative", "scale": {"domain": [22.5, 30.1, 45.9, 50], "range": [0, 191, 191, 385], "zero": false, "nice": false}, "axis": null},
      "y": {"field": "k", "type": "quantitative", "scale": {"domain": [0, 20], "zero": false, "nice": false}, "axis": null},
      "text": {"field": "el"},
      "color": {"field": "el", "type": "nominal", "scale": {"domain": ["Ga", "Cu", "Se"], "range": ["#999999", "#4a4a4a", "#1c1c1c"]}, "legend": null}}},
    {"data": {"name": "circI"}, "mark": {"type": "point", "shape": "circle", "filled": false, "color": "#000000", "strokeWidth": 1.2, "size": 16900, "opacity": 1},
     "encoding": {
      "x": {"field": "v", "type": "quantitative", "scale": {"domain": [22.5, 30.1, 45.9, 50], "range": [0, 191, 191, 385], "zero": false, "nice": false}, "axis": null},
      "y": {"field": "k", "type": "quantitative", "scale": {"domain": [0, 20], "zero": false, "nice": false}, "axis": null}}},
    {"data": {"name": "insetI"}, "mark": {"type": "text", "align": "center", "baseline": "middle"},
     "encoding": {
      "x": {"field": "v", "type": "quantitative", "scale": {"domain": [22.5, 30.1, 45.9, 50], "range": [0, 191, 191, 385], "zero": false, "nice": false}, "axis": null},
      "y": {"field": "k", "type": "quantitative", "scale": {"domain": [0, 20], "zero": false, "nice": false}, "axis": null},
      "text": {"field": "t"},
      "size": {"condition": {"test": "datum.t == 'Gasfluß'", "value": 25}, "value": 23}}},
    {"data": {"name": "arrowI"}, "mark": {"type": "rule", "color": "#000000", "strokeWidth": 1.2},
     "encoding": {
      "x": {"field": "v", "type": "quantitative", "scale": {"domain": [22.5, 30.1, 45.9, 50], "range": [0, 191, 191, 385], "zero": false, "nice": false}, "axis": null},
      "y": {"field": "k1", "type": "quantitative", "scale": {"domain": [0, 20], "zero": false, "nice": false}, "axis": null},
      "y2": {"field": "k2"}}},
    {"data": {"name": "headI"}, "mark": {"type": "point", "shape": "M-0.6,-1L0.6,-1L0,1Z", "filled": true, "color": "#000000", "size": 196, "opacity": 1},
     "encoding": {
      "x": {"field": "v", "type": "quantitative", "scale": {"domain": [22.5, 30.1, 45.9, 50], "range": [0, 191, 191, 385], "zero": false, "nice": false}, "axis": null},
      "y": {"field": "k", "type": "quantitative", "scale": {"domain": [0, 20], "zero": false, "nice": false}, "axis": null}}},
    {"data": {"name": "gap"}, "mark": {"type": "rule", "color": "#ffffff", "strokeWidth": 5},
     "encoding": {
      "x": {"field": "x1", "type": "quantitative", "scale": {"domain": [22.5, 30.1, 45.9, 50], "range": [0, 191, 191, 385], "zero": false, "nice": false}, "axis": null},
      "x2": {"field": "x2"},
      "y": {"field": "y1", "type": "quantitative", "scale": {"domain": [0, 20], "zero": false, "nice": false}, "axis": null},
      "y2": {"field": "y2"}}},
    {"data": {"name": "slash"}, "mark": {"type": "rule", "color": "#000000", "strokeWidth": 1.5},
     "encoding": {
      "x": {"field": "x1", "type": "quantitative", "scale": {"domain": [22.5, 30.1, 45.9, 50], "range": [0, 191, 191, 385], "zero": false, "nice": false}, "axis": null},
      "x2": {"field": "x2"},
      "y": {"field": "y1", "type": "quantitative", "scale": {"domain": [0, 20], "zero": false, "nice": false}, "axis": null},
      "y2": {"field": "y2"}}}
   ],
   "resolve": {"axis": {"x": "independent", "y": "independent"}}
  }
 ]},
 {"spacing": 7, "hconcat": [
  {"width": 382, "height": 466,
   "title": {"text": "II)", "anchor": "start", "frame": "bounds", "fontSize": 34, "dx": -18, "dy": 9},
   "layer": [
    {"data": {"name": "specII"}, "mark": {"type": "line", "color": "#000000", "strokeWidth": 1.1, "interpolate": "monotone"},
     "encoding": {
      "x": {"field": "e", "type": "quantitative", "scale": {"domain": [1.45, 1.8], "zero": false, "nice": false}, "axis": {"orient": "bottom", "values": [1.5, 1.6, 1.7, 1.8], "format": ".1f", "tickSize": -10, "labelPadding": 19, "labelFontSize": 22, "title": "Energie [eV]", "titlePadding": 15}},
      "y": {"field": "i", "type": "quantitative", "scale": {"domain": [0, 32.8], "zero": false, "nice": false}, "axis": {"orient": "left", "values": [1,3,5,7,9,11,13,15,17,19,21,23,25,27,29,31], "labels": false, "tickSize": -10, "title": "PL-Intensität [a.u.]", "titlePadding": 16, "titleY": 218}},
      "detail": {"field": "c", "type": "nominal"}}},
    {"data": {"values": [{"e": 1.6, "i": 10}]}, "mark": {"type": "point", "opacity": 0},
     "encoding": {
      "x": {"field": "e", "type": "quantitative", "scale": {"domain": [1.45, 1.8], "zero": false, "nice": false}, "axis": {"orient": "bottom", "values": [1.55, 1.65, 1.75], "labels": false, "tickSize": -5, "title": null}},
      "y": {"field": "i", "type": "quantitative", "scale": {"domain": [0, 32.8], "zero": false, "nice": false}, "axis": {"orient": "left", "values": [2,4,6,8,10,12,14,16,18,20,22,24,26,28,30,32], "labels": false, "tickSize": -5, "title": null}}}},
    {"data": {"values": [{"e": 1.6, "i": 10}]}, "mark": {"type": "point", "opacity": 0},
     "encoding": {
      "x": {"field": "e", "type": "quantitative", "scale": {"domain": [1.45, 1.8], "zero": false, "nice": false}, "axis": {"orient": "top", "values": [1.458635, 1.5498, 1.65312, 1.7712], "labelExpr": "format(1239.84/datum.value, '.0f')", "tickSize": -10, "labelPadding": 16, "labelFontSize": 21, "title": "Wellenlänge [nm]", "titleFontSize": 26, "titlePadding": 13, "titleX": 195}},
      "y": {"field": "i", "type": "quantitative", "scale": {"domain": [0, 32.8], "zero": false, "nice": false}, "axis": {"orient": "right", "values": [1,3,5,7,9,11,13,15,17,19,21,23,25,27,29,31], "labels": false, "tickSize": -10, "title": null}}}},
    {"data": {"values": [{"e": 1.6, "i": 10}]}, "mark": {"type": "point", "opacity": 0},
     "encoding": {
      "x": {"field": "e", "type": "quantitative", "scale": {"domain": [1.45, 1.8], "zero": false, "nice": false}, "axis": {"orient": "top", "values": [1.502836, 1.599794, 1.710124], "labels": false, "tickSize": -5, "title": null}},
      "y": {"field": "i", "type": "quantitative", "scale": {"domain": [0, 32.8], "zero": false, "nice": false}, "axis": {"orient": "right", "values": [2,4,6,8,10,12,14,16,18,20,22,24,26,28,30,32], "labels": false, "tickSize": -5, "title": null}}}},
    {"data": {"name": "annII"}, "mark": {"type": "text", "align": "left", "baseline": "middle", "fontSize": 21},
     "encoding": {
      "x": {"field": "e", "type": "quantitative", "scale": {"domain": [1.45, 1.8], "zero": false, "nice": false}, "axis": null},
      "y": {"field": "i", "type": "quantitative", "scale": {"domain": [0, 32.8], "zero": false, "nice": false}, "axis": null},
      "text": {"field": "t"}}}
   ],
   "resolve": {"axis": {"x": "independent", "y": "independent"}}
  },
  {"width": 385, "height": 470,
   "title": {"text": "KCN geätzt", "anchor": "start", "frame": "group", "fontSize": 21, "offset": 23},
   "layer": [
    {"data": {"name": "compII"}, "mark": {"type": "point", "filled": true, "opacity": 1},
     "encoding": {
      "x": {"field": "v", "type": "quantitative", "scale": {"domain": [23, 30.1, 45.9, 50], "range": [0, 191, 191, 385], "zero": false, "nice": false}, "axis": {"orient": "bottom", "values": [24, 26, 28, 46, 48, 50], "tickSize": -10, "labelPadding": 20, "labelFontSize": 24, "title": "Zusammensetzung [at.%]", "titlePadding": 10}},
      "y": {"field": "k", "type": "quantitative", "scale": {"domain": [0, 20], "zero": false, "nice": false}, "axis": {"orient": "left", "values": [1,2,3,4,5,6,7,8,9,10,11,12,13,14,15,16,17,18,19], "labelExpr": "datum.value == 13 ? 'A' : (datum.value == 1 ? 'B' : '')", "labelFontSize": 29, "tickSize": -9, "labelPadding": 35, "title": "Position", "titleX": -38, "titleY": 280, "titleAngle": -90, "titleBaseline": "middle", "titleAlign": "center"}},
      "shape": {"field": "el", "type": "nominal", "scale": {"domain": ["Ga", "Cu", "Se"], "range": ["diamond", "triangle-up", "square"]}, "legend": null},
      "color": {"field": "el", "type": "nominal", "scale": {"domain": ["Ga", "Cu", "Se"], "range": ["#999999", "#4a4a4a", "#1c1c1c"]}, "legend": null},
      "size": {"field": "el", "type": "nominal", "scale": {"type": "ordinal", "domain": ["Ga", "Cu", "Se"], "range": [225, 170, 121]}, "legend": null}}},
    {"data": {"values": [{"v": 25, "k": 10}]}, "mark": {"type": "point", "opacity": 0},
     "encoding": {
      "x": {"field": "v", "type": "quantitative", "scale": {"domain": [23, 30.1, 45.9, 50], "range": [0, 191, 191, 385], "zero": false, "nice": false}, "axis": {"orient": "bottom", "values": [25, 27, 29, 47, 49], "labels": false, "tickSize": -5, "title": null}},
      "y": {"field": "k", "type": "quantitative", "scale": {"domain": [0, 20], "zero": false, "nice": false}, "axis": {"orient": "right", "values": [1,2,3,4,5,6,7,8,9,10,11,12,13,14,15,16,17,18,19], "labels": false, "tickSize": -11, "title": null}}}},
    {"data": {"values": [{"v": 25, "k": 10}]}, "mark": {"type": "point", "opacity": 0},
     "encoding": {
      "x": {"field": "v", "type": "quantitative", "scale": {"domain": [23, 30.1, 45.9, 50], "range": [0, 191, 191, 385], "zero": false, "nice": false}, "axis": {"orient": "top", "values": [24, 26, 28, 48], "labels": false, "tickSize": -10, "title": null}},
      "y": {"field": "k", "type": "quantitative", "scale": {"domain": [0, 20], "zero": false, "nice": false}, "axis": null}}},
    {"data": {"values": [{"v": 25, "k": 10}]}, "mark": {"type": "point", "opacity": 0},
     "encoding": {
      "x": {"field": "v", "type": "quantitative", "scale": {"domain": [23, 30.1, 45.9, 50], "range": [0, 191, 191, 385], "zero": false, "nice": false}, "axis": {"orient": "top", "values": [25, 27, 29, 47, 49], "labels": false, "tickSize": -5, "title": null}},
      "y": {"field": "k", "type": "quantitative", "scale": {"domain": [0, 20], "zero": false, "nice": false}, "axis": null}}},
    {"data": {"name": "labII"}, "mark": {"type": "text", "align": "center", "baseline": "middle", "fontSize": 32},
     "encoding": {
      "x": {"field": "v", "type": "quantitative", "scale": {"domain": [23, 30.1, 45.9, 50], "range": [0, 191, 191, 385], "zero": false, "nice": false}, "axis": null},
      "y": {"field": "k", "type": "quantitative", "scale": {"domain": [0, 20], "zero": false, "nice": false}, "axis": null},
      "text": {"field": "el"},
      "color": {"field": "el", "type": "nominal", "scale": {"domain": ["Ga", "Cu", "Se"], "range": ["#999999", "#4a4a4a", "#1c1c1c"]}, "legend": null}}},
    {"data": {"name": "circII"}, "mark": {"type": "point", "shape": "circle", "filled": false, "color": "#000000", "strokeWidth": 1.2, "size": 16900, "opacity": 1},
     "encoding": {
      "x": {"field": "v", "type": "quantitative", "scale": {"domain": [23, 30.1, 45.9, 50], "range": [0, 191, 191, 385], "zero": false, "nice": false}, "axis": null},
      "y": {"field": "k", "type": "quantitative", "scale": {"domain": [0, 20], "zero": false, "nice": false}, "axis": null}}},
    {"data": {"name": "insetII"}, "mark": {"type": "text", "align": "center", "baseline": "middle"},
     "encoding": {
      "x": {"field": "v", "type": "quantitative", "scale": {"domain": [23, 30.1, 45.9, 50], "range": [0, 191, 191, 385], "zero": false, "nice": false}, "axis": null},
      "y": {"field": "k", "type": "quantitative", "scale": {"domain": [0, 20], "zero": false, "nice": false}, "axis": null},
      "text": {"field": "t"},
      "size": {"condition": {"test": "datum.t == 'Gasfluß'", "value": 25}, "value": 23}}},
    {"data": {"name": "arrowII"}, "mark": {"type": "rule", "color": "#000000", "strokeWidth": 1.2},
     "encoding": {
      "x": {"field": "v", "type": "quantitative", "scale": {"domain": [23, 30.1, 45.9, 50], "range": [0, 191, 191, 385], "zero": false, "nice": false}, "axis": null},
      "y": {"field": "k1", "type": "quantitative", "scale": {"domain": [0, 20], "zero": false, "nice": false}, "axis": null},
      "y2": {"field": "k2"}}},
    {"data": {"name": "headII"}, "mark": {"type": "point", "shape": "M-0.6,-1L0.6,-1L0,1Z", "filled": true, "color": "#000000", "size": 196, "opacity": 1},
     "encoding": {
      "x": {"field": "v", "type": "quantitative", "scale": {"domain": [23, 30.1, 45.9, 50], "range": [0, 191, 191, 385], "zero": false, "nice": false}, "axis": null},
      "y": {"field": "k", "type": "quantitative", "scale": {"domain": [0, 20], "zero": false, "nice": false}, "axis": null}}},
    {"data": {"name": "gap"}, "mark": {"type": "rule", "color": "#ffffff", "strokeWidth": 5},
     "encoding": {
      "x": {"field": "x1", "type": "quantitative", "scale": {"domain": [23, 30.1, 45.9, 50], "range": [0, 191, 191, 385], "zero": false, "nice": false}, "axis": null},
      "x2": {"field": "x2"},
      "y": {"field": "y1", "type": "quantitative", "scale": {"domain": [0, 20], "zero": false, "nice": false}, "axis": null},
      "y2": {"field": "y2"}}},
    {"data": {"name": "slash"}, "mark": {"type": "rule", "color": "#000000", "strokeWidth": 1.5},
     "encoding": {
      "x": {"field": "x1", "type": "quantitative", "scale": {"domain": [23, 30.1, 45.9, 50], "range": [0, 191, 191, 385], "zero": false, "nice": false}, "axis": null},
      "x2": {"field": "x2"},
      "y": {"field": "y1", "type": "quantitative", "scale": {"domain": [0, 20], "zero": false, "nice": false}, "axis": null},
      "y2": {"field": "y2"}}}
   ],
   "resolve": {"axis": {"x": "independent", "y": "independent"}}
  }
 ]}
]
}
